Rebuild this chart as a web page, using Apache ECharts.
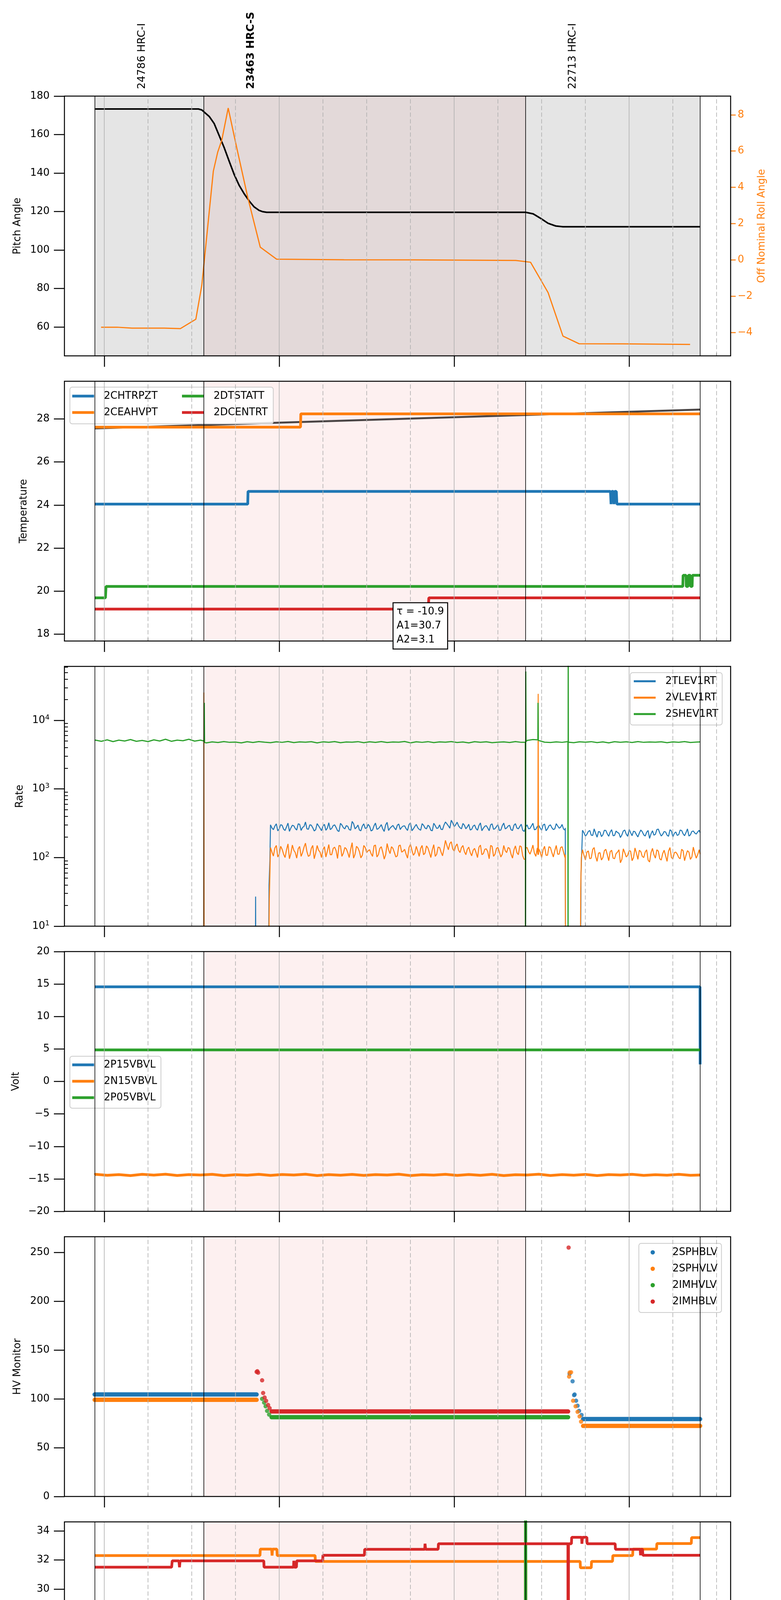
<!DOCTYPE html>
<html>
<head>
<meta charset="utf-8">
<title>HRC 2021-02-24 (055)</title>
<script src="https://cdn.jsdelivr.net/npm/echarts@6/dist/echarts.min.js"></script>
<style>
  html, body { margin: 0; padding: 0; background: #fff; }
  #main { width: 2000px; height: 5400px; }
</style>
</head>
<body>
<div id="main"></div>
<script>
// x is minutes since 00:00 on 2021-02-24
var obsStart = [236.7, 274.1, 384.4]
var obsEnd = [274.1, 384.4, 444.35]
var obsNames = ['24786 HRC-I', '23463 HRC-S', '22713 HRC-I']
var obsBold = [false, true, false]
var obsLabelShift = 16.3
var hourTicks = [240, 300, 360, 420]
var quarterTicks = [255, 270, 285, 315, 330, 345, 375, 390, 405, 435, 450]

// panel 1 - pitch / roll
var pitchT = [236.7, 272.3, 273.45, 276.0, 277.7, 279.4, 281.1, 282.9, 284.6, 286.3, 288.0, 289.7, 291.4, 293.1, 294.4, 295.7, 384.5, 387.1, 389.7, 392.2, 394.8, 397.3, 444.35]
var pitchV = [173.3, 173.3, 172.8, 169.4, 165.7, 159.5, 153.3, 145.9, 139.1, 133.5, 129.2, 125.5, 122.4, 120.6, 119.9, 119.6, 119.6, 118.8, 116.4, 113.9, 112.5, 112.1, 112.1]
var rollT = [238.9, 244.4, 249.5, 260.6, 266.1, 271.4, 273.45, 277.4, 278.9, 280.3, 282.5, 285.4, 289.2, 293.5, 299.1, 322.2, 346.1, 381.1, 386.2, 392.2, 397.3, 402.8, 417.9, 440.9]
var rollV = [-3.71, -3.71, -3.76, -3.76, -3.79, -3.27, -1.40, 4.89, 5.94, 6.60, 8.37, 6.20, 3.45, 0.70, 0.04, 0.01, 0.0, -0.03, -0.13, -1.80, -4.20, -4.62, -4.63, -4.66]

// panel 2 - temperatures
var tempFit = [[236.7, 27.56], [444.35, 28.44]]
var fitNote = 'τ = -10.9\nA1=30.7\nA2=3.1'
var fitNoteAt = [339.2, 19.43]
var t2CHTRPZT = [[236.7, 24.04], [289.2, 24.04], [289.3, 24.63], [413.6, 24.63], [413.8, 24.04], [414.0, 24.63], [414.6, 24.63], [414.8, 24.04], [415.0, 24.63], [415.6, 24.63], [415.8, 24.04], [444.35, 24.04]]
var t2CEAHVPT = [[236.7, 27.62], [307.3, 27.62], [307.4, 28.24], [444.35, 28.24]]
var t2DTSTATT = [[236.7, 19.68], [240.4, 19.68], [240.6, 20.21], [438.4, 20.21], [438.5, 20.73], [439.5, 20.73], [439.6, 20.21], [440.2, 20.21], [440.3, 20.73], [441.0, 20.73], [441.1, 20.21], [441.6, 20.21], [441.7, 20.73], [444.35, 20.73]]
var t2DCENTRT = [[236.7, 19.16], [351.1, 19.16], [351.3, 19.68], [444.35, 19.68]]

// panel 3 - rates (1 = off the bottom of the log axis)
var rateBlueBand1 = [300,255,310,262,295,248,318,270,290,252, 305,275,330,258,296,244,312,268,288,250,
  322,266,300,247,315,272,292,256,336,262, 298,245,310,270,286,252,318,264,302,240,
  326,268,294,254,308,276,290,248,320,262, 304,258,312,270,296,250,316,266,300,256,
  330,290,350,282,328,272,314,262,306,258, 298,250,320,268,292,246,310,264,302,252,
  318,270,296,248,312,262,306,240,300,266, 316,258,294,250,308,262,300,256,312,268, 304,252]
var rateBlueBand1b = [270,288,245,302,259,280,241,296,265,310, 248,284,262,300,272,255,290,246,305,268,
  256,292,274,240,298,262,285,250,312,276, 252,288,266,305,244,290,258,280,262,300,
  248,282,270,296,256,288,264,302,246,284, 272,250,296,262,284,246,292,270,258,298,
  310,268,320,300,290,262,296,280,252,288, 264,294,246,286,270,300,258,282,248,292,
  262,288,254,296,270,284,250,278,262,290, 254,284,268,298,246,290,272,262,288,276, 260]
var rateBlueBand2 = [250,205,240,212,262,198,236,215,248,204, 255,210,232,196,244,220,258,208,238,200,
  252,214,234,190,246,218,260,206,240,212, 254,200,236,216,248,208,262,214,244,220, 250]
var rateBlueBand2b = [230,218,248,210,226,240,202,250,222,236, 208,244,226,214,252,204,230,242,216,228,
  238,206,248,222,212,256,228,218,236,204, 244,226,210,252,222,232,206,240,228,236]
var rateBlueEvents = [[236.7, 1], [291.8, 1], [291.9, 27], [292.0, 1], [296.3, 1], [296.5, 40], [296.8, 90], [398.1, 270], [398.2, 1], [403.3, 1], [403.5, 60], [444.35, 230]]
var rateOrangeBand1 = [140,105,150,112,132,100,158,115,128,98, 145,118,162,104,136,96,150,120,130,102,
  155,110,142,97,148,116,134,100,165,112, 138,99,150,118,130,104,152,110,144,95,
  160,114,136,102,148,120,132,98,156,108, 146,104,150,116,138,100,154,112,140,106,
  178,130,170,124,158,118,150,110,142,106, 136,100,152,114,134,96,146,112,140,102,
  150,118,136,98,148,110,144,94,140,112, 152,104,134,100,146,108,140,102,150,112, 144,100]
var rateOrangeBand1b = [120,138,102,146,112,130,96,152,118,134, 104,142,122,108,150,116,128,100,144,124,
  110,136,126,150,104,140,118,132,98,146, 122,108,140,126,114,148,102,136,120,110,
  130,144,118,106,152,124,112,140,128,116, 124,136,110,148,118,130,104,142,120,134,
  150,160,134,146,128,140,122,132,118,128, 118,142,110,132,122,150,104,136,120,112,
  126,140,112,130,118,148,106,138,122,128, 116,138,120,130,108,144,118,126,112,140, 120]
var rateOrangeBand2 = [130,92,125,98,140,88,118,100,132,90, 128,96,120,84,134,102,126,90,138,94,
  122,100,130,86,136,98,124,92,128,88, 140,96,120,100,132,90,126,94,142,98, 130]
var rateOrangeBand2b = [108,120,96,132,104,116,92,126,110,122, 98,114,130,94,118,108,124,100,116,128,
  104,120,92,118,110,130,96,114,106,124, 100,118,112,96,126,108,120,102,116,110]
var rateOrangeEvents = [[236.7, 1], [274.1, 1], [274.15, 25400], [274.25, 1], [296.3, 1], [296.6, 25], [296.9, 90], [384.45, 95], [388.7, 110], [388.8, 24300], [388.9, 110], [398.1, 110], [398.2, 1], [403.2, 1], [403.4, 35], [403.6, 100], [444.35, 112]]
var rateGreenEarly = [5150,4950,5200,4900,5150,5000,5250,4950,5100,4900,5200,5000,5300,4950,5150,5050,5300,4980,5150]
var rateGreenLate = [4700,4850,4750,4900,4780,4820,4700,4880,4760,4900,
  4800,4720,4860,4780,4920,4740,4850,4800,4880,4700,
  4860,4790,4900,4730,4840,4810,4890,4720,4860,4770,
  4900,4750,4830,4800,4920,4700,4870,4780,4890,4740,
  4850,4810,4900,4760,4840,4700,4880,4790,4860,4730,
  4800,4850,4760,4900,4780,5100,5250,5150,4800,4750,
  4850,4780,4900,4720,4860,4800,4890,4740,4850,4700,
  4880,4790,4860,4750,4900,4780,4840,4810,4870,4730,
  4850,4790,4900,4760,4820]
var rateGreenEvents = [[236.7, 5100], [274.2, 5000], [274.3, 18000], [274.4, 4750], [384.4, 4800], [384.45, 1], [384.55, 51600], [384.65, 4900], [388.7, 5200], [388.75, 18000], [388.85, 5100], [399.0, 4800], [399.05, 1], [399.1, 200000], [399.15, 4800], [444.35, 4850]]

// panel 4 - voltages
var v2P15VBVL = [[236.7, 14.57], [444.3, 14.57], [444.35, 2.63]]
var v2N15VBVL = [-14.3,-14.45,-14.35,-14.5,-14.3,-14.42,-14.28,-14.48,-14.35,-14.4,
  -14.3,-14.5,-14.36,-14.44,-14.3,-14.47,-14.33,-14.41,-14.29,-14.5,
  -14.35,-14.43,-14.31,-14.46,-14.34,-14.4,-14.28,-14.49,-14.36,-14.42,
  -14.3,-14.47,-14.33,-14.45,-14.3,-14.5,-14.36,-14.41,-14.29,-14.48,
  -14.35,-14.44,-14.31,-14.5,-14.34,-14.4,-14.3,-14.47,-14.36,-14.43,
  -14.3,-14.45]
var v2P05VBVL = [[236.7, 4.86], [444.35, 4.86]]

// panel 5 - HV monitor (steady runs + isolated samples)
var hvSPHBLVRuns = [[236.7, 104.5], [292.25, 104.5], [300, '-'], [404.2, 79.3], [444.35, 79.3]]
var hvSPHBLVDots = [[399.58, 125.6], [400.6, 118], [401.12, 103.8], [401.3, 104.5], [401.8, 98.1], [402.31, 93], [402.83, 87.7], [403.68, 83.5]]
var hvSPHVLVRuns = [[236.7, 99], [292.25, 99], [300, '-'], [404.2, 72.3], [444.35, 72.3]]
var hvSPHVLVDots = [[399.41, 122.8], [399.6, 127], [400.09, 127.2], [400.78, 98.1], [401.63, 92.4], [402.31, 86.7], [403.0, 82], [403.51, 76.7]]
var hvIMHVLVRuns = [[297.38, 81.2], [399.07, 81.2]]
var hvIMHVLVDots = [[294.13, 100], [294.82, 96.2], [295.33, 92.4], [295.84, 87.7], [296.53, 83.9]]
var hvIMHBLVRuns = [[297.38, 87.1], [399.07, 87.1]]
var hvIMHBLVDots = [[292.25, 127.6], [292.5, 128.3], [292.77, 126.8], [294.13, 119], [294.48, 106], [294.99, 101.4], [295.5, 98], [296.18, 93.8], [296.7, 90.5], [399.24, 255]]

// panel 6 - detector temps
var d2SPINATM = [[236.7, 18.28], [393.6, 18.28], [393.7, 18.94], [394.1, 18.94], [394.2, 18.28], [395.0, 18.28], [395.1, 18.94], [395.5, 18.28], [395.7, 18.94], [396.3, 18.28], [396.5, 18.94], [397.8, 18.94], [397.9, 18.28], [403.3, 18.28], [403.6, 18.94], [444.35, 18.94]]
var d2SPHVATM = [[236.7, 32.3], [293.4, 32.3], [293.5, 32.74], [297.4, 32.74], [297.55, 32.3], [297.7, 32.74], [299.2, 32.74], [299.3, 32.3], [312.3, 32.3], [312.4, 31.9], [384.4, 31.9], [384.5, 0], [384.6, 31.9], [403.2, 31.9], [403.3, 31.46], [407.0, 31.46], [407.1, 31.9], [414.3, 31.9], [414.4, 32.3], [421.2, 32.3], [421.3, 32.74], [429.4, 32.74], [429.5, 33.12], [441.3, 33.12], [441.4, 33.53], [444.35, 33.53]]
var d2IMINATM = [[236.7, 19.62], [339.5, 19.62], [339.6, 20.29], [340.2, 19.62], [340.8, 20.29], [341.5, 19.62], [342.3, 20.29], [343.0, 19.62], [343.8, 20.29], [344.5, 19.62], [345.2, 20.29], [352.1, 20.29], [352.2, 19.62], [352.3, 20.29], [384.4, 20.29], [384.5, 60], [384.6, 20.29], [444.35, 20.29]]
var d2IMHVATM = [[236.7, 31.5], [263.1, 31.5], [263.3, 31.94], [265.6, 31.94], [265.8, 31.5], [266.0, 31.94], [294.7, 31.94], [294.8, 31.5], [304.9, 31.5], [305.0, 31.94], [305.2, 31.5], [305.9, 31.5], [306.0, 31.94], [314.9, 31.94], [315.0, 32.32], [329.2, 32.32], [329.3, 32.73], [349.9, 32.73], [350.0, 33.11], [350.2, 32.73], [354.5, 32.73], [354.6, 33.11], [399.0, 33.11], [399.1, 0], [399.2, 33.11], [400.2, 33.11], [400.3, 33.55], [403.7, 33.55], [403.8, 33.11], [404.0, 33.55], [405.5, 33.55], [405.6, 33.11], [415.2, 33.11], [415.3, 32.73], [423.8, 32.73], [423.9, 32.32], [424.1, 32.73], [424.6, 32.73], [424.7, 32.32], [444.35, 32.32]]

// panel 7 - FEA temps
var f2FHTRMZT = [[236.7, 22.92], [418.6, 22.92], [418.8, 23.48], [421.4, 23.48], [421.6, 22.9], [421.8, 23.48], [444.35, 23.48]]
var f2FRADPYT = [[236.7, 18.66], [414.0, 18.66], [414.2, 19.17], [444.35, 19.17]]
var f2FEPRATM = [[236.7, 24.63], [384.6, 24.63], [384.7, 30], [384.8, 24.63], [399.0, 24.63], [399.1, 0], [399.2, 24.63], [444.35, 24.63]]
var f2FE00ATM = [[236.7, 22.66], [289.6, 22.66], [289.7, 22.98], [290.2, 22.66], [290.8, 22.98], [291.4, 22.66], [292.0, 22.98], [292.6, 22.66], [292.8, 22.98], [297.3, 22.98], [297.4, 22.66], [297.5, 22.98],
  [323.3, 22.98], [323.4, 23.32], [323.5, 22.98], [328.4, 22.98], [328.5, 22.66], [328.6, 22.98], [330.3, 22.98], [330.4, 23.65], [330.5, 22.98], [333.5, 22.98], [333.6, 22.3], [333.7, 22.98],
  [334.4, 22.98], [334.5, 22.66], [334.6, 22.98], [335.6, 22.98], [335.7, 21.99], [335.8, 22.98], [361.4, 22.98], [361.5, 22.66], [361.6, 22.98], [363.1, 22.98], [363.2, 23.32], [363.3, 22.98],
  [369.6, 22.98], [369.7, 22.66], [369.8, 22.98], [375.0, 22.98], [375.1, 22.66], [375.2, 22.98], [379.0, 22.98], [379.1, 22.66], [379.2, 22.98], [381.0, 22.98], [381.1, 22.66], [381.2, 22.98],
  [382.4, 22.98], [382.5, 22.66], [382.6, 22.98], [383.1, 22.98], [383.2, 21.68], [383.3, 22.98], [384.6, 22.98], [384.7, 0], [384.8, 22.98], [385.3, 22.98], [385.4, 22.66], [385.5, 22.98],
  [399.0, 22.98], [399.1, 0], [399.2, 22.98], [416.6, 22.98], [416.7, 23.65], [416.8, 22.98], [444.35, 22.98]]

var FONT = 'DejaVu Sans'
var BLUE = '#1f77b4', ORANGE = '#ff7f0e', GREEN = '#2ca02c', RED = '#d62728'
var xMin = 226.34, xMax = 454.8
var gridTop = [246, 976, 1706, 2436, 3166, 3896, 4625]
var gridH = 665

function pairs(ts, vs) {
    return ts.map(function (t, i) { return [t, vs[i]] })
}
// regularly sampled stretch: first sample time + cadence
function sampled(t0, step, vals) {
    return vals.map(function (v, i) { return [t0 + i * step, v] })
}
function byTime(a, b) { return a[0] - b[0] }
function minusFmt(v) {
    return v < 0 ? '\u2212' + (-v) : String(v)
}

var grids = gridTop.map(function (top) {
    return {left: 165, width: 1706, top: top, height: gridH, show: true, z: 10,
        borderColor: '#000', borderWidth: 2.5, backgroundColor: 'transparent'}
})

var xAxes = []
for (var g = 0; g < 7; g++) {
    var last = g === 6
    xAxes.push({
        type: 'value', gridIndex: g, min: xMin, max: xMax, position: 'bottom',
        axisLine: {show: false, onZero: false}, splitLine: {show: false},
        axisTick: {show: true, customValues: hourTicks, length: 28, lineStyle: {color: '#000', width: 2.5}},
        axisLabel: last ? {show: true, customValues: hourTicks, margin: 36, fontSize: 27, fontFamily: FONT, color: '#000',
            formatter: function (v) { var h = Math.round(v / 60); return (h < 10 ? '0' : '') + h + 'h' }} : {show: false},
        name: last ? '2021-02-24 (055)' : '', nameLocation: 'middle', nameGap: 76,
        nameTextStyle: {fontSize: 29, fontFamily: FONT, color: '#000'}
    })
    xAxes.push({
        type: 'value', gridIndex: g, min: xMin, max: xMax, position: 'bottom',
        axisLine: {show: false, onZero: false}, splitLine: {show: false},
        axisTick: {show: true, inside: true, customValues: quarterTicks, length: 7, lineStyle: {color: '#000', width: 2}},
        axisLabel: last ? {show: true, customValues: quarterTicks, margin: 7, fontSize: 18, fontFamily: FONT, color: '#000',
            formatter: function (v) { return String(Math.round(v) % 60) }} : {show: false}
    })
}

function yAxisFor(g, o) {
    var col = o.color || '#000'
    return {
        type: o.type || 'value', gridIndex: g, min: o.min, max: o.max, position: o.position || 'left',
        axisLine: {show: false, onZero: false}, splitLine: {show: false},
        axisTick: {show: true, customValues: o.ticks, length: o.tickLen || 27, lineStyle: {color: col, width: 2.5}},
        axisLabel: {show: true, customValues: o.ticks, margin: o.margin || 38, fontSize: 26, fontFamily: FONT, color: col,
            formatter: o.formatter || minusFmt, rich: o.rich},
        name: o.name, nameLocation: 'middle', nameRotate: 90, nameGap: o.nameGap,
        nameTextStyle: {fontSize: 26, fontFamily: FONT, color: col}
    }
}

var rateMinor = []
for (var dec = 10; dec < 100000; dec *= 10) {
    for (var k = 2; k <= 9; k++) if (k * dec < 61100) rateMinor.push(k * dec)
}

var yAxes = [
    yAxisFor(0, {min: 45, max: 180, ticks: [60, 80, 100, 120, 140, 160, 180], name: 'Pitch Angle', nameGap: 107}),
    yAxisFor(0, {min: -5.29, max: 9.03, ticks: [-4, -2, 0, 2, 4, 6, 8], position: 'right', color: ORANGE, tickLen: 13, margin: 18,
        name: 'Off Nominal Roll Angle', nameGap: 62}),
    yAxisFor(1, {min: 17.673, max: 29.755, ticks: [18, 20, 22, 24, 26, 28], name: 'Temperature', nameGap: 91}),
    yAxisFor(2, {type: 'log', min: 10, max: 61100, ticks: [10, 100, 1000, 10000], name: 'Rate', nameGap: 101,
        formatter: function (v) { return '{b|10}{e|' + Math.round(Math.log10(v)) + '}' },
        rich: {b: {fontSize: 26, fontFamily: FONT, color: '#000'}, e: {fontSize: 18, fontFamily: FONT, color: '#000', padding: [0, 0, 14, 0]}}}),
    {type: 'log', gridIndex: 2, min: 10, max: 61100, position: 'left', axisLine: {show: false, onZero: false}, splitLine: {show: false},
        axisLabel: {show: false}, axisTick: {show: true, inside: true, customValues: rateMinor, length: 9, lineStyle: {color: '#000', width: 2}}},
    yAxisFor(3, {min: -20, max: 20, ticks: [-20, -15, -10, -5, 0, 5, 10, 15, 20], name: 'Volt', nameGap: 111}),
    yAxisFor(4, {min: 0, max: 266.1, ticks: [0, 50, 100, 150, 200, 250], name: 'HV Monitor', nameGap: 107}),
    yAxisFor(5, {min: 16.79, max: 34.61, ticks: [18, 20, 22, 24, 26, 28, 30, 32, 34], name: 'Detector Temp', nameGap: 91}),
    yAxisFor(6, {min: 17.15, max: 26.12, ticks: [18, 19, 20, 21, 22, 23, 24, 25, 26], name: 'FEA Temp', nameGap: 91})
]
var mainY = [0, 2, 3, 5, 6, 7, 8]

var series = []

// shaded observation spans, hour / quarter grid and observation boundaries
function backdrop(g, fills) {
    var areas = []
    fills.forEach(function (c, i) {
        if (c) areas.push([{xAxis: obsStart[i], itemStyle: {color: c}}, {xAxis: obsEnd[i]}])
    })
    var lines = []
    hourTicks.forEach(function (v) { lines.push({xAxis: v, lineStyle: {color: '#b0b0b0', width: 1.6, type: 'solid'}}) })
    quarterTicks.forEach(function (v) { lines.push({xAxis: v, lineStyle: {color: '#b0b0b0', width: 1.6, type: [11, 6]}}) })
    obsStart.concat([obsEnd[obsEnd.length - 1]]).forEach(function (v) {
        lines.push({xAxis: v, lineStyle: {color: '#000', width: 1.6, type: 'solid'}})
    })
    series.push({type: 'line', data: [], xAxisIndex: 2 * g, yAxisIndex: mainY[g], z: 1, silent: true,
        markArea: {silent: true, data: areas}})
    series.push({type: 'line', data: [], xAxisIndex: 2 * g, yAxisIndex: mainY[g], z: 2, silent: true,
        markLine: {silent: true, symbol: 'none', label: {show: false}, data: lines}})
}
backdrop(0, ['#e5e5e5', '#e3d9d9', '#e5e5e5'])
for (var p = 1; p < 7; p++) backdrop(p, [null, '#fdf0f0', null])

function line(name, g, y, data, color, width, extra) {
    var s = {type: 'line', name: name, xAxisIndex: 2 * g, yAxisIndex: y, data: data, z: 3,
        showSymbol: false, symbol: 'none', lineStyle: {color: color, width: width}, itemStyle: {color: color}}
    if (extra) for (var key in extra) s[key] = extra[key]
    return s
}

series.push(line('Pitch', 0, 0, pairs(pitchT, pitchV), '#000', 4))
series.push(line('Roll', 0, 1, pairs(rollT, rollV), ORANGE, 3))

series.push(line('fit', 1, 2, tempFit, '#4a4545', 5))
series.push(line('2CHTRPZT', 1, 2, t2CHTRPZT, BLUE, 7))
series.push(line('2CEAHVPT', 1, 2, t2CEAHVPT, ORANGE, 7))
series.push(line('2DTSTATT', 1, 2, t2DTSTATT, GREEN, 7))
series.push(line('2DCENTRT', 1, 2, t2DCENTRT, RED, 7))

var rateBlue = sampled(297, 1, rateBlueBand1).concat(sampled(297.5, 1, rateBlueBand1b),
    sampled(404, 1, rateBlueBand2), sampled(404.5, 1, rateBlueBand2b), rateBlueEvents).sort(byTime)
var rateOrange = sampled(297, 1, rateOrangeBand1).concat(sampled(297.5, 1, rateOrangeBand1b),
    sampled(404, 1, rateOrangeBand2), sampled(404.5, 1, rateOrangeBand2b), rateOrangeEvents).sort(byTime)
var rateGreen = sampled(237, 2, rateGreenEarly).concat(sampled(275, 2, rateGreenLate), rateGreenEvents).sort(byTime)
series.push(line('2TLEV1RT', 2, 3, rateBlue, BLUE, 2.5))
series.push(line('2VLEV1RT', 2, 3, rateOrange, ORANGE, 2.5))
series.push(line('2SHEV1RT', 2, 3, rateGreen, GREEN, 3))

series.push(line('2P15VBVL', 3, 5, v2P15VBVL, BLUE, 7))
series.push(line('2N15VBVL', 3, 5, [[236.7, -14.4]].concat(sampled(237, 4, v2N15VBVL), [[444.35, -14.4]]), ORANGE, 7))
series.push(line('2P05VBVL', 3, 5, v2P05VBVL, GREEN, 7))

function hv(name, runs, dots, color) {
    series.push(line(name, 4, 6, runs, color, 11, {lineStyle: {color: color, width: 11, cap: 'round'}}))
    series.push({type: 'scatter', name: name, xAxisIndex: 8, yAxisIndex: 6, data: dots, z: 3,
        symbol: 'circle', symbolSize: 11, itemStyle: {color: color}})
}
hv('2SPHBLV', hvSPHBLVRuns, hvSPHBLVDots, BLUE)
hv('2SPHVLV', hvSPHVLVRuns, hvSPHVLVDots, ORANGE)
hv('2IMHVLV', hvIMHVLVRuns, hvIMHVLVDots, GREEN)
hv('2IMHBLV', hvIMHBLVRuns, hvIMHBLVDots, RED)

series.push(line('2SPINATM', 5, 7, d2SPINATM, BLUE, 7))
series.push(line('2SPHVATM', 5, 7, d2SPHVATM, ORANGE, 7))
series.push(line('2IMINATM', 5, 7, d2IMINATM, GREEN, 7))
series.push(line('2IMHVATM', 5, 7, d2IMHVATM, RED, 7))

series.push(line('2FHTRMZT', 6, 8, f2FHTRMZT, BLUE, 7))
series.push(line('2FRADPYT', 6, 8, f2FRADPYT, ORANGE, 7))
series.push(line('2FEPRATM', 6, 8, f2FEPRATM, GREEN, 7))
series.push(line('2FE00ATM', 6, 8, f2FE00ATM, RED, 7))

function legendBox(names, left, top, pad, opts) {
    opts = opts || {}
    var boxed = opts.boxed !== false
    return {
        data: names, orient: 'vertical', left: left, top: top, padding: pad, z: opts.z || 4,
        icon: opts.icon || 'rect', itemWidth: opts.iw || 56, itemHeight: opts.ih || 7, itemGap: 12,
        textStyle: {fontSize: 26, fontFamily: FONT, color: '#000', lineHeight: 30, padding: [0, 0, 0, opts.tp || 20]},
        backgroundColor: boxed ? 'rgba(255,255,255,0.8)' : 'transparent',
        borderColor: boxed ? '#cccccc' : 'transparent', borderWidth: 2, borderRadius: 6
    }
}

var legends = [
    legendBox(['2CHTRPZT', '2CEAHVPT'], 179, 991, [8, 296, 14, 6]),
    legendBox(['2DTSTATT', '2DCENTRT'], 466, 991, [8, 0, 14, 0], {boxed: false, z: 5}),
    legendBox(['2TLEV1RT', '2VLEV1RT', '2SHEV1RT'], 1614, 1722, [7, 10, 13, 9], {ih: 5}),
    legendBox(['2P15VBVL', '2N15VBVL', '2P05VBVL'], 179, 2704, [7, 10, 12, 6]),
    legendBox(['2SPHBLV', '2SPHVLV', '2IMHVLV', '2IMHBLV'], 1636, 3183, [8, 10, 13, 30], {icon: 'circle', iw: 11, ih: 11, tp: 40}),
    legendBox(['2SPINATM', '2SPHVATM', '2IMINATM', '2IMHVATM'], 1610, 4144, [8, 10, 12, 8]),
    legendBox(['2FHTRMZT', '2FRADPYT', '2FEPRATM', '2FE00ATM'], 1608, 4874, [8, 10, 13, 6])
]

var chart = echarts.init(document.getElementById('main'))
chart.setOption({
    animation: false,
    backgroundColor: '#fff',
    textStyle: {fontFamily: FONT},
    grid: grids,
    xAxis: xAxes,
    yAxis: yAxes,
    legend: legends,
    series: series
})

// observation labels above the top panel, and the fit note in the temperature panel
var gfx = obsNames.map(function (nm, i) {
    var px = chart.convertToPixel({xAxisIndex: 0}, obsStart[i] + obsLabelShift)
    return {type: 'text', x: px, y: 228, rotation: Math.PI / 2,
        style: {text: nm, fontSize: 27, fontFamily: FONT, fontWeight: obsBold[i] ? 'bold' : 'normal', fill: '#000', align: 'left', verticalAlign: 'middle'}}
})
var notePos = chart.convertToPixel({xAxisIndex: 2, yAxisIndex: 2}, fitNoteAt)
gfx.push({type: 'text', x: notePos[0], y: notePos[1], z: 20,
    style: {text: fitNote, fontSize: 26, fontFamily: FONT, fill: '#000', lineHeight: 36, align: 'left', verticalAlign: 'top',
        backgroundColor: '#fff', borderColor: '#000', borderWidth: 2.5, padding: [4, 8, 4, 8]}})
chart.setOption({graphic: gfx})
</script>
</body>
</html>
